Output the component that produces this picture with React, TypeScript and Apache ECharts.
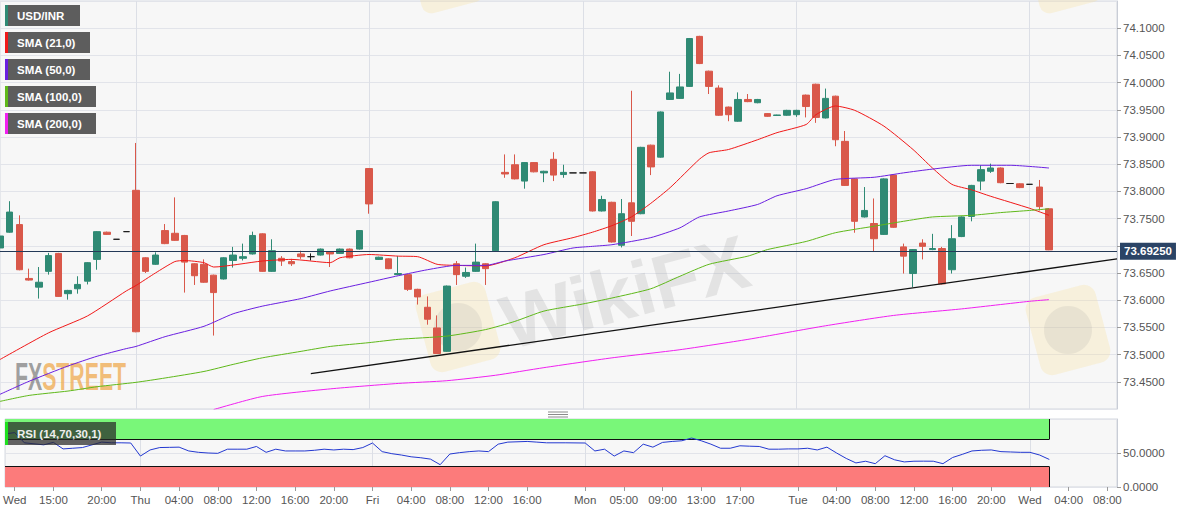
import { useEffect, useRef } from 'react';
import * as echarts from 'echarts';

// hourly slots from Wed 10:00 to Wed 09:00 (weekend removed)
const slotCount = 116;
const tickSlots = [1, 5, 10, 14, 18, 22, 26, 30, 34, 38, 42, 46, 50, 54, 60, 64, 68, 72, 76, 82, 86, 90, 94, 98, 102, 106, 110, 114];
const tickLabels = ['Wed', '15:00', '20:00', 'Thu', '04:00', '08:00', '12:00', '16:00', '20:00', 'Fri', '04:00', '08:00', '12:00', '16:00', 'Mon', '05:00', '09:00', '13:00', '17:00', 'Tue', '04:00', '08:00', '12:00', '16:00', '20:00', 'Wed', '04:00', '08:00'];
const daySlots = [14, 38, 60, 82, 106];

const opens = [
  73.696, 73.725, 73.739, 73.640, 73.624, 73.653, 73.686, 73.612, 73.621, 73.635,
  73.675, 73.725, 73.712, 73.726, 73.802, 73.678, 73.666, 73.728, 73.723, 73.719,
  73.667, 73.666, 73.646, 73.639, 73.673, 73.677, 73.685, 73.722, 73.653, 73.677,
  73.671, 73.685, 73.680, 73.683, 73.689, 73.686, 73.694, 73.694, 73.842, 73.675,
  73.676, 73.647, 73.647, 73.620, 73.587, 73.549, 73.506, 73.667, 73.644, 73.653,
  73.667, 73.691, 73.835, 73.849, 73.819, 73.853, 73.834, 73.859, 73.831, 73.834,
  73.834, 73.836, 73.764, 73.780, 73.701, 73.779, 73.759, 73.885, 73.863, 73.969,
  73.971, 73.993, 74.085, 74.021, 73.990, 73.955, 73.929, 73.969, 73.963, 73.943,
  73.9395, 73.940, 73.941, 73.977, 73.997, 73.935, 73.975, 73.892, 73.823, 73.753,
  73.741, 73.721, 73.830, 73.698, 73.649, 73.705, 73.693, 73.695, 73.656, 73.717,
  73.754, 73.819, 73.837, 73.843, 73.8145, 73.814, 73.813, 73.808, 73.768,
];
const closes = [
  73.718, 73.762, 73.656, 73.637, 73.633, 73.682, 73.607, 73.618, 73.629, 73.669,
  73.726, 73.721, 73.712, 73.726, 73.542, 73.653, 73.683, 73.704, 73.710, 73.670,
  73.645, 73.633, 73.614, 73.678, 73.683, 73.680, 73.719, 73.653, 73.691, 73.672,
  73.667, 73.680, 73.680, 73.694, 73.685, 73.694, 73.678, 73.728, 73.777, 73.679,
  73.658, 73.649, 73.620, 73.606, 73.565, 73.502, 73.626, 73.647, 73.651, 73.670,
  73.658, 73.781, 73.832, 73.823, 73.853, 73.836, 73.837, 73.830, 73.835, 73.834,
  73.834, 73.764, 73.785, 73.707, 73.759, 73.745, 73.881, 73.845, 73.946, 73.981,
  73.992, 74.081, 74.035, 73.993, 73.940, 73.941, 73.969, 73.965, 73.969, 73.938,
  73.9405, 73.949, 73.949, 73.956, 73.936, 73.971, 73.895, 73.811, 73.745, 73.765,
  73.713, 73.823, 73.734, 73.681, 73.693, 73.699, 73.695, 73.630, 73.713, 73.753,
  73.811, 73.840, 73.843, 73.816, 73.8145, 73.807, 73.813, 73.772, 73.6925,
];
const lows = [
  73.694, 73.724, 73.655, 73.636, 73.603, 73.647, 73.606, 73.601, 73.612, 73.629,
  73.656, 73.720, 73.712, 73.726, 73.541, 73.650, 73.665, 73.703, 73.709, 73.614,
  73.628, 73.632, 73.535, 73.638, 73.660, 73.673, 73.684, 73.652, 73.652, 73.663,
  73.663, 73.676, 73.673, 73.682, 73.661, 73.685, 73.677, 73.693, 73.759, 73.674,
  73.657, 73.646, 73.617, 73.592, 73.555, 73.501, 73.505, 73.628, 73.641, 73.652,
  73.628, 73.690, 73.825, 73.822, 73.805, 73.835, 73.817, 73.819, 73.825, 73.834,
  73.834, 73.763, 73.763, 73.706, 73.697, 73.718, 73.758, 73.830, 73.862, 73.968,
  73.970, 73.992, 74.034, 73.979, 73.939, 73.929, 73.928, 73.964, 73.962, 73.937,
  73.939, 73.939, 73.937, 73.936, 73.926, 73.934, 73.883, 73.810, 73.724, 73.752,
  73.690, 73.720, 73.733, 73.649, 73.624, 73.675, 73.692, 73.629, 73.649, 73.716,
  73.745, 73.802, 73.834, 73.815, 73.8145, 73.806, 73.813, 73.765, 73.692,
];
const highs = [
  73.720, 73.782, 73.756, 73.658, 73.661, 73.687, 73.687, 73.619, 73.644, 73.670,
  73.727, 73.726, 73.712, 73.726, 73.889, 73.679, 73.688, 73.740, 73.789, 73.720,
  73.668, 73.675, 73.647, 73.679, 73.698, 73.704, 73.726, 73.723, 73.712, 73.681,
  73.676, 73.691, 73.686, 73.695, 73.690, 73.695, 73.695, 73.729, 73.843, 73.680,
  73.677, 73.681, 73.648, 73.621, 73.607, 73.572, 73.627, 73.672, 73.660, 73.704,
  73.668, 73.782, 73.868, 73.868, 73.854, 73.854, 73.838, 73.872, 73.849, 73.834,
  73.834, 73.837, 73.792, 73.781, 73.786, 73.985, 73.882, 73.886, 73.947, 74.020,
  74.016, 74.082, 74.086, 74.022, 73.995, 73.956, 73.982, 73.979, 73.970, 73.944,
  73.941, 73.950, 73.950, 73.978, 73.998, 73.989, 73.976, 73.911, 73.824, 73.808,
  73.787, 73.824, 73.831, 73.704, 73.694, 73.712, 73.722, 73.698, 73.738, 73.754,
  73.812, 73.848, 73.851, 73.844, 73.8145, 73.815, 73.813, 73.821, 73.769,
];

// moving averages: [slot, value]
const sma21 = [
  [0, 73.491], [5, 73.540], [9, 73.571], [13, 73.617], [14, 73.627], [16, 73.650], [18, 73.671],
  [19, 73.673], [21, 73.669], [22, 73.661], [27, 73.672], [30, 73.675], [34, 73.669], [35, 73.678],
  [38, 73.684], [41, 73.681], [43, 73.680], [45, 73.666], [47, 73.664], [50, 73.663], [53, 73.678],
  [56, 73.702], [59, 73.715], [61, 73.725], [63, 73.737], [65, 73.753], [67, 73.778], [69, 73.807],
  [72, 73.859], [73, 73.871], [75, 73.877], [78, 73.895], [80, 73.908], [83, 73.923], [84, 73.941],
  [86, 73.957], [88, 73.949], [91, 73.920], [94, 73.877], [96, 73.843], [98, 73.813], [100, 73.803],
  [102, 73.791], [106, 73.769], [108, 73.756],
];
const sma50 = [
  [0, 73.427], [3, 73.451], [7, 73.479], [10, 73.497], [13, 73.511], [14, 73.515], [17, 73.533],
  [21, 73.552], [24, 73.575], [27, 73.589], [31, 73.603], [34, 73.617], [38, 73.633], [41, 73.645],
  [44, 73.656], [47, 73.664], [50, 73.664], [52, 73.672], [56, 73.684], [59, 73.696], [61, 73.699],
  [63, 73.702], [67, 73.715], [70, 73.733], [72, 73.753], [75, 73.764], [78, 73.776], [80, 73.792],
  [83, 73.805], [86, 73.822], [90, 73.826], [93, 73.834], [96, 73.841], [100, 73.848], [104, 73.848],
  [108, 73.843],
];
const sma100 = [
  [0, 73.414], [3, 73.425], [7, 73.433], [10, 73.441], [14, 73.449], [17, 73.457], [21, 73.469],
  [24, 73.482], [27, 73.494], [31, 73.506], [34, 73.515], [38, 73.522], [41, 73.528], [46, 73.534],
  [50, 73.546], [53, 73.561], [56, 73.580], [60, 73.593], [63, 73.604], [67, 73.621], [70, 73.644],
  [73, 73.666], [77, 73.681], [79, 73.693], [83, 73.708], [86, 73.724], [90, 73.736], [93, 73.745],
  [96, 73.753], [100, 73.756], [103, 73.761], [106, 73.765], [108, 73.768],
];
const sma200 = [
  [22, 73.399], [27, 73.423], [34, 73.437], [41, 73.447], [46, 73.452], [51, 73.462], [56, 73.476],
  [63, 73.494], [70, 73.509], [77, 73.528], [85, 73.553], [92, 73.572], [99, 73.584], [106, 73.598],
  [108, 73.601],
];
const trendLine = [[32, 73.465], [115, 73.676]];

const rsi = [
  [0, 78], [1, 80], [2, 65], [4, 62], [5, 65.6], [6, 56], [7, 57], [8, 58], [9, 62], [10, 66],
  [11, 65], [12, 65], [13, 64.7], [14, 45.5], [15, 54.5], [16, 58], [17, 58.3], [18, 58.6],
  [19, 53], [20, 51], [21, 50], [22, 49.5], [23, 55.6], [24, 55.6], [25, 55.6], [26, 59.6],
  [27, 51], [28, 55.6], [29, 53], [30, 53], [31, 53], [32, 54], [33, 55.6], [34, 54.5],
  [35, 55.6], [36, 55], [37, 58], [38, 64.7], [39, 52], [40, 49], [41, 47], [42, 44.4],
  [43, 43], [44, 41], [45, 32.8], [46, 48.5], [47, 50.5], [48, 52], [49, 53], [50, 52],
  [51, 63], [52, 66], [54, 67], [55, 66], [56, 65], [58, 65], [60, 64.7], [61, 53], [62, 55.6],
  [63, 45.5], [64, 53], [65, 50.5], [66, 63], [67, 58.6], [68, 65.6], [69, 67], [70, 68],
  [71, 72], [72, 68], [73, 63], [74, 57], [75, 57], [76, 60.6], [77, 60], [78, 59.6], [79, 55.6],
  [80, 55.6], [81, 56], [82, 56], [83, 57], [84, 54.5], [85, 58.6], [86, 50], [87, 42],
  [88, 35.4], [89, 37.9], [90, 34.3], [91, 46], [92, 40], [93, 36.9], [94, 37.9], [95, 38],
  [96, 37.9], [97, 34.3], [98, 43.4], [99, 48], [100, 53], [101, 54], [102, 54.5], [103, 52],
  [104, 51.5], [105, 51], [106, 51], [107, 47], [108, 40.5],
];
const rsiUpper = 70;
const rsiLower = 30;

const legendNames = ['USD/INR', 'SMA (21,0)', 'SMA (50,0)', 'SMA (100,0)', 'SMA (200,0)'];
const rsiName = 'RSI (14,70,30,1)';

const FONT = '"Liberation Sans", Arial, sans-serif';
const UP = '#2f8a74';
const DOWN = '#d9584a';
const DOJI = '#1a1a1a';
const lineColors = ['#2f8a74', '#f01818', '#6a1fe0', '#5fb81a', '#f020f0'];
const legendWidths = [75, 85, 85, 91, 91];

const App = () => {
  const chartRef = useRef<HTMLDivElement>(null);

  useEffect(() => {
    if (!chartRef.current) return;
    const chart = echarts.init(chartRef.current, undefined, { renderer: 'svg' });

    const categories = Array.from({ length: slotCount }, (_, i) => String(i));
    const lastClose = closes[closes.length - 1];
    const candles = opens.map((o, i) => {
      const value = [o, closes[i], lows[i], highs[i]];
      if (o === closes[i]) {
        return {
          value,
          itemStyle: { color: DOJI, color0: DOJI, borderColor: DOJI, borderColor0: DOJI },
        };
      }
      return value;
    });
    const isTick = (i: number) => tickSlots.includes(i);
    const isDay = (i: number) => daySlots.includes(i);
    const lastSlot = opens.length - 1;

    const smaLine = (name: string, data: number[][], color: string) => ({
      name,
      type: 'line',
      xAxisIndex: 0,
      yAxisIndex: 0,
      data,
      smooth: 0.2,
      symbol: 'none',
      lineStyle: { color, width: 1 },
      z: 4,
    });

    const legendGraphics = legendNames.flatMap((name, i) => {
      const y = 5 + i * 27;
      return [
        { type: 'rect', z: 30, shape: { x: 5, y, width: legendWidths[i], height: 21 }, style: { fill: '#5d5d5d' } },
        { type: 'rect', z: 31, shape: { x: 5, y, width: 3, height: 21 }, style: { fill: lineColors[i] } },
        {
          type: 'text', z: 31, x: 17, y: y + 11,
          style: { text: name, fill: '#fff', fontSize: 11.5, fontWeight: 'bold', fontFamily: FONT, verticalAlign: 'middle' },
        },
      ];
    });

    const wmStyle = {
      text: 'WikiFX', fill: 'rgba(150,150,150,0.2)', fontSize: 76, fontWeight: 'bold',
      fontFamily: FONT, align: 'center', verticalAlign: 'middle',
    };

    chart.setOption({
      animation: false,
      backgroundColor: '#fff',
      grid: [
        { left: 0, top: 1, width: 1117, height: 408, show: true, backgroundColor: '#f7f7f7', borderColor: '#d3d7df', borderWidth: 1 },
        { left: 0, top: 419, width: 1117, height: 68, show: true, backgroundColor: '#f7f7f7', borderColor: '#d3d7df', borderWidth: 1 },
      ],
      xAxis: [
        {
          type: 'category', gridIndex: 0, data: categories, boundaryGap: false,
          axisLine: { show: false }, axisTick: { show: false }, axisLabel: { show: false },
          splitLine: { show: true, interval: (i: number) => isDay(i), lineStyle: { color: '#dcdfe6', width: 1 } },
        },
        {
          type: 'category', gridIndex: 1, data: categories, boundaryGap: false,
          axisLine: { show: false },
          axisTick: { show: true, interval: (i: number) => isTick(i), length: 4, lineStyle: { color: '#9a9a9a' } },
          axisLabel: {
            interval: (i: number) => isTick(i),
            formatter: (_v: string, i: number) => tickLabels[tickSlots.indexOf(i)] ?? '',
            color: '#555', fontSize: 11.5, fontFamily: FONT, margin: 7,
          },
          splitLine: { show: true, interval: (i: number) => isDay(i), lineStyle: { color: '#dcdfe6', width: 1 } },
        },
      ],
      yAxis: [
        {
          type: 'value', gridIndex: 0, position: 'right', min: 73.4, max: 74.15, interval: 0.05,
          axisLine: { show: true, lineStyle: { color: '#c9cdd6' } },
          axisTick: { show: true, length: 4, lineStyle: { color: '#9a9a9a' } },
          axisLabel: {
            // the 73.70 label sits under the last-price box
            formatter: (v: number) => (Math.abs(v - lastClose) < 0.025 ? '' : v.toFixed(4)),
            showMinLabel: false, showMaxLabel: false,
            color: '#555', fontSize: 11.5, fontFamily: FONT, margin: 6,
          },
          splitLine: { show: true, lineStyle: { color: '#e2e4ea', width: 1 } },
        },
        {
          type: 'value', gridIndex: 1, position: 'right', min: 0, max: 100, interval: 50,
          axisLine: { show: true, lineStyle: { color: '#c9cdd6' } },
          axisTick: { show: true, length: 4, lineStyle: { color: '#9a9a9a' } },
          axisLabel: {
            formatter: (v: number) => v.toFixed(4), showMaxLabel: false,
            color: '#555', fontSize: 11.5, fontFamily: FONT, margin: 6,
          },
          splitLine: { show: true, lineStyle: { color: '#e2e4ea', width: 1 } },
        },
      ],
      series: [
        {
          name: 'USD/INR',
          type: 'candlestick',
          xAxisIndex: 0,
          yAxisIndex: 0,
          data: candles,
          barWidth: 7,
          z: 3,
          itemStyle: { color: UP, color0: DOWN, borderColor: UP, borderColor0: DOWN, borderWidth: 1 },
          markLine: {
            silent: true,
            symbol: ['none', 'none'],
            z: 6,
            lineStyle: { color: '#243a58', width: 1, type: 'solid' },
            label: {
              show: true, position: 'end', distance: 3,
              formatter: () => lastClose.toFixed(5),
              backgroundColor: '#2b4466', color: '#fff', fontWeight: 'bold', fontSize: 11.5,
              fontFamily: FONT, padding: [3, 4, 2, 4],
            },
            data: [{ yAxis: lastClose }],
          },
        },
        smaLine('SMA (21,0)', sma21, lineColors[1]),
        smaLine('SMA (50,0)', sma50, lineColors[2]),
        smaLine('SMA (100,0)', sma100, lineColors[3]),
        smaLine('SMA (200,0)', sma200, lineColors[4]),
        {
          name: 'trend',
          type: 'line',
          xAxisIndex: 0,
          yAxisIndex: 0,
          data: trendLine,
          symbol: 'none',
          lineStyle: { color: '#111', width: 1.3 },
          z: 5,
        },
        {
          name: rsiName,
          type: 'line',
          xAxisIndex: 1,
          yAxisIndex: 1,
          data: rsi,
          symbol: 'none',
          lineStyle: { color: '#2338d0', width: 1 },
          z: 5,
          markArea: {
            silent: true,
            data: [
              [{ coord: [0, rsiUpper], itemStyle: { color: '#79f779', opacity: 1 } }, { coord: [lastSlot, 100] }],
              [{ coord: [0, 0], itemStyle: { color: '#fc7b7b', opacity: 1 } }, { coord: [lastSlot, rsiLower] }],
            ],
          },
          markLine: {
            silent: true,
            symbol: ['none', 'none'],
            label: { show: false },
            lineStyle: { color: '#111', width: 1, type: 'solid' },
            data: [
              [{ coord: [0, rsiUpper] }, { coord: [lastSlot, rsiUpper] }],
              [{ coord: [0, rsiLower] }, { coord: [lastSlot, rsiLower] }],
              [{ coord: [lastSlot, rsiUpper] }, { coord: [lastSlot, 100] }],
              [{ coord: [lastSlot, 0] }, { coord: [lastSlot, rsiLower] }],
            ],
          },
        },
      ],
      graphic: [
        // watermarks
        { type: 'text', z: 1, x: 625, y: 292, rotation: 0.26, style: wmStyle },
        {
          type: 'rect', z: 1, x: 458, y: 327, rotation: 0.26,
          shape: { x: -36, y: -40, width: 72, height: 80, r: 12 }, style: { fill: 'rgba(248,222,150,0.28)' },
        },
        {
          type: 'circle', z: 1, x: 458, y: 327, shape: { cx: 0, cy: 0, r: 24 }, style: { fill: 'rgba(150,150,150,0.15)' },
        },
        {
          type: 'rect', z: 1, x: 1068, y: 330, rotation: 0.26,
          shape: { x: -36, y: -40, width: 72, height: 80, r: 12 }, style: { fill: 'rgba(248,222,150,0.28)' },
        },
        {
          type: 'circle', z: 1, x: 1068, y: 330, shape: { cx: 0, cy: 0, r: 24 }, style: { fill: 'rgba(150,150,150,0.15)' },
        },
        {
          type: 'rect', z: 1, x: 450, y: -12, rotation: 0.26,
          shape: { x: -32, y: -20, width: 64, height: 40, r: 10 }, style: { fill: 'rgba(248,222,150,0.28)' },
        },
        {
          type: 'rect', z: 1, x: 1068, y: -12, rotation: 0.26,
          shape: { x: -32, y: -20, width: 64, height: 40, r: 10 }, style: { fill: 'rgba(248,222,150,0.28)' },
        },
        {
          type: 'text', z: 1, x: 15, y: 377, scaleX: 0.56,
          style: {
            text: '{a|FX}{b|STREET}', fontSize: 38, fontWeight: 'bold', fontFamily: FONT, verticalAlign: 'middle',
            rich: {
              a: { fill: 'rgba(130,130,130,0.75)', fontSize: 38, fontWeight: 'bold', fontFamily: FONT },
              b: { fill: 'rgba(240,170,80,0.75)', fontSize: 38, fontWeight: 'bold', fontFamily: FONT },
            },
          },
        },
        // panel separator handle
        { type: 'line', z: 10, shape: { x1: 548, y1: 412, x2: 568, y2: 412 }, style: { stroke: '#8a8a8a', lineWidth: 1 } },
        { type: 'line', z: 10, shape: { x1: 548, y1: 414.5, x2: 568, y2: 414.5 }, style: { stroke: '#8a8a8a', lineWidth: 1 } },
        { type: 'line', z: 10, shape: { x1: 548, y1: 417, x2: 568, y2: 417 }, style: { stroke: '#8a8a8a', lineWidth: 1 } },
        // legend boxes
        ...legendGraphics,
        { type: 'rect', z: 30, shape: { x: 5, y: 422, width: 111, height: 23 }, style: { fill: 'rgba(40,40,40,0.72)' } },
        { type: 'rect', z: 31, shape: { x: 5, y: 422, width: 3, height: 23 }, style: { fill: '#1fe01f' } },
        {
          type: 'text', z: 31, x: 17, y: 434,
          style: { text: rsiName, fill: '#eee', fontSize: 11.5, fontWeight: 'bold', fontFamily: FONT, verticalAlign: 'middle' },
        },
      ],
    });

    return () => {
      chart.dispose();
    };
  }, []);

  return (
    <div
      ref={chartRef}
      style={{ position: 'fixed', left: 0, top: 0, width: '1194px', height: '513px', background: '#fff' }}
    />
  );
};

export default App;
